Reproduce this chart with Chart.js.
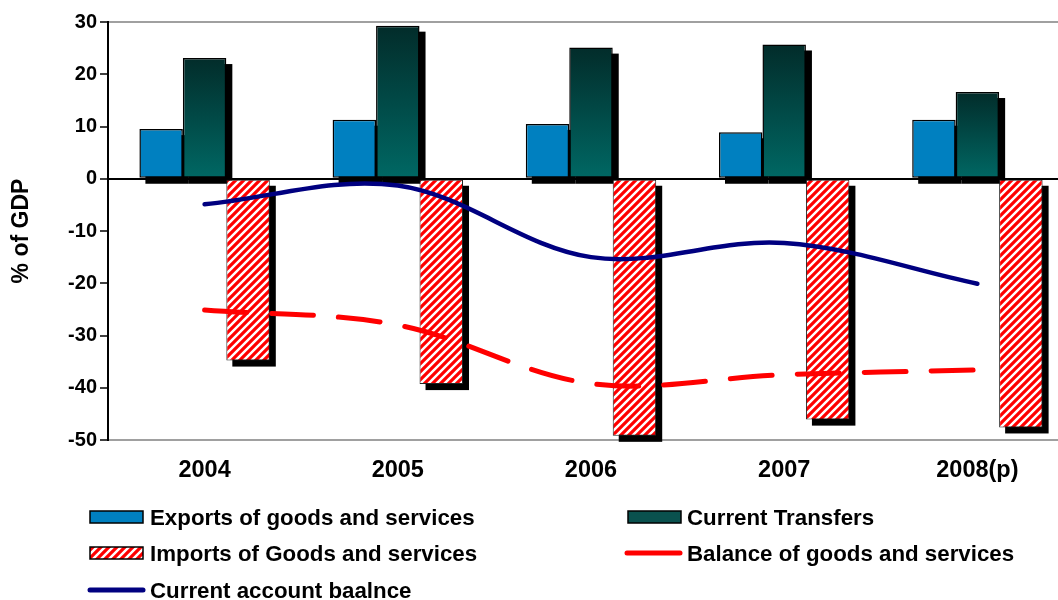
<!DOCTYPE html>
<html>
<head>
<meta charset="utf-8">
<script src="https://cdn.jsdelivr.net/npm/chart.js@4.4.1/dist/chart.umd.min.js"></script>
<style>
html, body { margin: 0; padding: 0; overflow: hidden; background: #fff; }
#wrap { position: relative; width: 1076px; height: 600px; }
</style>
</head>
<body>
<div id="wrap"><canvas id="myChartBalanza" width="1076" height="600"></canvas></div>
<script>
var years = ['2004', '2005', '2006', '2007', '2008(p)'];
var exportsGoods = [9.5, 11.3, 10.5, 8.9, 11.3];
var currentTransfers = [23.1, 29.3, 25.1, 25.7, 16.6];
var importsGoods = [-34.8, -39.3, -49.2, -46.1, -47.6];
var balanceGoods = [-25.1, -28.0, -39.2, -37.5, -36.6];
var currentAccount = [-4.9, -1.3, -15.0, -12.3, -20.1];
var yTicks = [30, 20, 10, 0, -10, -20, -30, -40, -50];

var fontFamily = '"Liberation Sans", Arial, sans-serif';

var canvas = document.getElementById('myChartBalanza');
var ctx = canvas.getContext('2d');

// red diagonal stripes for the imports bars
function makeHatch(size) {
    var c = document.createElement('canvas');
    c.width = size;
    c.height = size;
    var g = c.getContext('2d');
    g.fillStyle = '#ffffff';
    g.fillRect(0, 0, size, size);
    g.strokeStyle = '#ff0000';
    g.lineWidth = size * 0.4;
    g.beginPath();
    g.moveTo(-size / 2, size / 2); g.lineTo(size / 2, -size / 2);
    g.moveTo(0, size); g.lineTo(size, 0);
    g.moveTo(size / 2, size * 1.5); g.lineTo(size * 1.5, size / 2);
    g.stroke();
    return ctx.createPattern(c, 'repeat');
}
var hatch = makeHatch(8);

// vertical teal gradient, one per bar, from the top of the bar down to zero
function transfersFill(context) {
    var chart = context.chart;
    if (context.type !== 'data' || !chart.chartArea) return '#02504c';
    var y = chart.scales.y;
    var top = y.getPixelForValue(context.parsed.y);
    var base = y.getPixelForValue(0);
    var grad = chart.ctx.createLinearGradient(0, top, 0, base);
    grad.addColorStop(0, '#022c2a');
    grad.addColorStop(1, '#006864');
    return grad;
}

// black drop shadow behind every bar
var barShadow = {
    id: 'barShadow',
    beforeDatasetsDraw: function(chart) {
        var c = chart.ctx;
        c.save();
        c.fillStyle = '#000';
        chart.data.datasets.forEach(function(ds, i) {
            if (ds.type !== 'bar') return;
            chart.getDatasetMeta(i).data.forEach(function(bar) {
                var p = bar.getProps(['x', 'y', 'base', 'width'], true);
                var top = Math.min(p.y, p.base);
                var h = Math.abs(p.base - p.y);
                c.fillRect(p.x - p.width / 2 + 6, top + 6, p.width, h);
            });
        });
        c.restore();
    }
};

// two column legend under the axis
var bottomLegend = {
    id: 'bottomLegend',
    afterDraw: function(chart) {
        var c = chart.ctx;
        var ds = chart.data.datasets;
        // dataset index, swatch x, text x, text baseline
        var slots = [[0, 90, 150, 525], [1, 628, 687, 525], [2, 90, 150, 561], [3, 625, 687, 561], [4, 88, 150, 598]];
        c.save();
        c.font = 'bold 22.3px ' + fontFamily;
        c.textBaseline = 'alphabetic';
        slots.forEach(function(s) {
            var d = ds[s[0]];
            var mid = s[3] - 8;
            if (d.type === 'bar') {
                c.fillStyle = d.legendFill || d.backgroundColor;
                c.fillRect(s[1], mid - 6, 53, 12);
                c.strokeStyle = '#000';
                c.lineWidth = 1.5;
                c.strokeRect(s[1], mid - 6, 53, 12);
            } else {
                c.strokeStyle = d.borderColor;
                c.lineWidth = 5;
                c.lineCap = 'round';
                c.beginPath();
                c.moveTo(s[1] + 2, mid);
                c.lineTo(s[1] + 55, mid);
                c.stroke();
            }
            c.fillStyle = '#000';
            c.fillText(d.label, s[2], s[3]);
        });
        c.restore();
    }
};

var mychart = new Chart(ctx, {
    data: {
        labels: years,
        datasets: [{
            type: 'bar',
            label: 'Exports of goods and services',
            data: exportsGoods,
            backgroundColor: '#0080c0',
            borderColor: '#000',
            borderWidth: 1.5,
            borderSkipped: false,
            categoryPercentage: 0.675,
            barPercentage: 1,
            order: 1
        }, {
            type: 'bar',
            label: 'Current Transfers',
            data: currentTransfers,
            backgroundColor: transfersFill,
            legendFill: '#0a514e',
            borderColor: '#000',
            borderWidth: 1.5,
            borderSkipped: false,
            categoryPercentage: 0.675,
            barPercentage: 1,
            order: 1
        }, {
            type: 'bar',
            label: 'Imports of Goods and services',
            data: importsGoods,
            backgroundColor: hatch,
            borderColor: '#222',
            borderWidth: 1,
            borderSkipped: false,
            categoryPercentage: 0.675,
            barPercentage: 1,
            order: 1
        }, {
            type: 'line',
            label: 'Balance of goods and services',
            data: balanceGoods,
            borderColor: '#ff0000',
            borderWidth: 5,
            borderDash: [42, 25],
            borderCapStyle: 'round',
            tension: 0.35,
            pointRadius: 0,
            fill: false,
            order: 0
        }, {
            type: 'line',
            label: 'Current account baalnce',
            data: currentAccount,
            borderColor: '#000080',
            borderWidth: 4.5,
            borderCapStyle: 'round',
            tension: 0.35,
            pointRadius: 0,
            fill: false,
            order: 0
        }]
    },
    options: {
        responsive: false,
        animation: false,
        devicePixelRatio: 1,
        layout: { padding: { top: 22, right: 2, bottom: 100, left: 0 } },
        plugins: {
            legend: { display: false },
            tooltip: { enabled: false }
        },
        scales: {
            x: {
                grid: { display: false, drawTicks: false },
                border: { display: false },
                ticks: {
                    color: '#000',
                    padding: 16,
                    maxRotation: 0,
                    font: { family: fontFamily, size: 23.5, weight: 'bold' }
                },
                afterFit: function(s) { s.height = 60; }
            },
            y: {
                min: -50,
                max: 30,
                afterBuildTicks: function(s) {
                    s.ticks = yTicks.map(function(v) { return { value: v }; });
                },
                afterFit: function(s) { s.width = 108; },
                grid: {
                    color: function(c) {
                        var v = c.tick && c.tick.value;
                        if (v === 0) return '#000';
                        if (v === 30 || v === -50) return '#a0a0a0';
                        return 'rgba(0,0,0,0)';
                    },
                    lineWidth: 2,
                    tickColor: '#000',
                    tickLength: 8,
                    tickWidth: 1.5
                },
                border: { color: '#000', width: 2 },
                ticks: {
                    color: '#000',
                    padding: 3,
                    font: { family: fontFamily, size: 20, weight: 'bold' }
                },
                title: {
                    display: true,
                    text: '% of GDP',
                    color: '#000',
                    padding: { top: 8, bottom: 0 },
                    font: { family: fontFamily, size: 23, weight: 'bold' }
                }
            }
        }
    },
    plugins: [barShadow, bottomLegend]
});
</script>
</body>
</html>
